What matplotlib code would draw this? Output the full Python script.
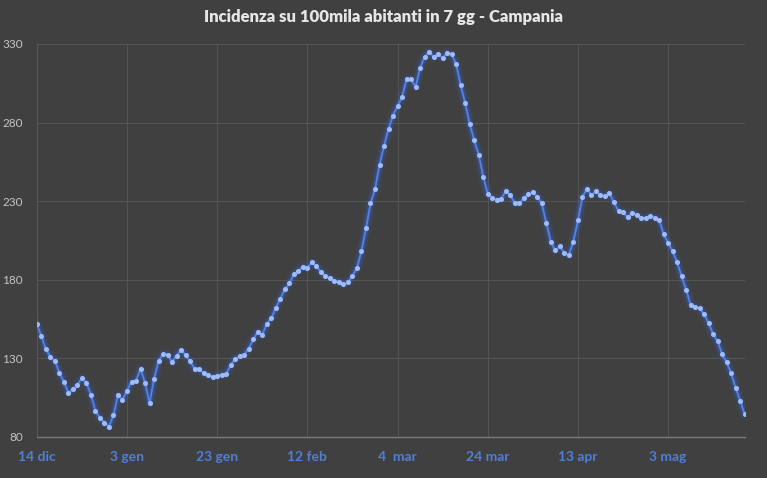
import matplotlib
matplotlib.use("Agg")
import matplotlib.pyplot as plt
import numpy as np

title = "Incidenza su 100mila abitanti in 7 gg - Campania"

values = [
    151.7, 144.2, 135.8, 131.1, 128.5, 120.7, 115.2, 108.0, 110.3, 113.1,
    117.3, 114.4, 106.9, 96.7, 91.9, 89.1, 86.6, 93.8, 106.5, 103.7,
    109.3, 115.2, 115.8, 123.3, 114.5, 101.6, 116.9,
    128.3, 132.8, 132.4, 127.7, 131.7, 135.1, 132.2, 128.1, 123.3, 123.1,
    120.5, 119.2, 118.4, 119.0, 119.6, 120.1, 125.8, 129.6, 131.3, 132.4,
    136.2, 142.1, 146.8, 145.1, 151.9, 155.5, 162.0,
    168.0,
    173.8, 177.6, 183.4, 185.7, 188.2, 187.6, 191.0, 188.8, 184.8, 182.5,
    181.0, 179.3, 178.7, 177.2, 178.3, 182.5, 187.6, 198.2, 212.6, 228.5,
    237.6, 253.0, 265.2, 276.0, 284.4,
    290.6, 296.3, 307.5, 307.5, 302.8, 314.7, 321.7, 324.9, 321.9, 323.4,
    321.1, 324.5, 323.4, 317.1, 303.7, 292.5, 279.1, 268.7, 259.6, 245.6,
    234.6, 232.0, 231.0, 231.4, 236.5, 233.8, 228.7,
    228.5, 231.9, 234.3, 235.5, 232.7, 228.5, 216.0, 204.1, 198.6, 201.2,
    196.9, 195.8, 204.3, 217.7, 232.7, 237.8, 233.8, 236.4, 233.8, 233.2,
    234.9, 229.2, 223.8, 223.2, 219.6, 222.6,
    221.5, 219.4, 219.0, 220.6, 219.4, 218.2, 209.2, 203.5, 198.0, 191.0,
    182.3, 173.6, 164.0, 162.4, 161.9, 157.9, 152.4, 145.2, 140.7, 132.5,
    127.4, 120.4, 111.2, 102.8, 94.3,
]

tick_labels = ["14 dic", "3 gen", "23 gen", "12 feb", "4  mar", "24 mar", "13 apr", "3 mag"]
y_ticks = [80, 130, 180, 230, 280, 330]

days = np.arange(len(values))
tick_pos = days[::20][:len(tick_labels)]

bg = "#404040"
fig = plt.figure(figsize=(7.67, 4.78), dpi=100, facecolor=bg)
ax = fig.add_axes([0.048, 0.086, 0.923, 0.822], facecolor=bg)

# glow
for lw, a in [(8, 0.05), (6, 0.08), (4.5, 0.12), (3, 0.2)]:
    ax.plot(days, values, color="#3a6cf0", lw=lw, alpha=a, solid_capstyle="round", zorder=2)
ax.plot(days, values, color="#5283e8", lw=1.3, zorder=3)
ax.plot(days, values, linestyle="none", marker="o", ms=2.6, mfc="#9fbcf8", mec="#9fbcf8", zorder=4)

ax.set_xlim(0, len(values) - 1)
ax.set_ylim(80, 330)
ax.set_yticks(y_ticks)
ax.set_yticklabels([str(v) for v in y_ticks])
ax.set_xticks(tick_pos)
ax.set_xticklabels(tick_labels)

ax.grid(True, color="#585858", lw=0.6)
ax.set_axisbelow(True)
for s in ["top", "right"]:
    ax.spines[s].set_visible(False)
ax.spines["left"].set_color("#585858")
ax.spines["left"].set_linewidth(0.6)
ax.spines["bottom"].set_color("#7a7a7a")
ax.spines["bottom"].set_linewidth(1.0)

ax.tick_params(axis="both", length=0)
ax.tick_params(axis="y", pad=10, labelsize=8.5, labelcolor="#c4c4c4")
ax.tick_params(axis="x", pad=10, labelsize=10, labelcolor="#4f7fd8")
for t in ax.get_yticklabels():
    t.set_fontfamily("Lato")
for t in ax.get_xticklabels():
    t.set_fontfamily("Lato")
    t.set_fontweight("bold")

fig.text(0.5, 0.965, title, ha="center", va="center", color="#e6e6e6",
         fontsize=12, fontweight="heavy", family="Lato")

fig.savefig("out.png", dpi=100, facecolor=bg)
